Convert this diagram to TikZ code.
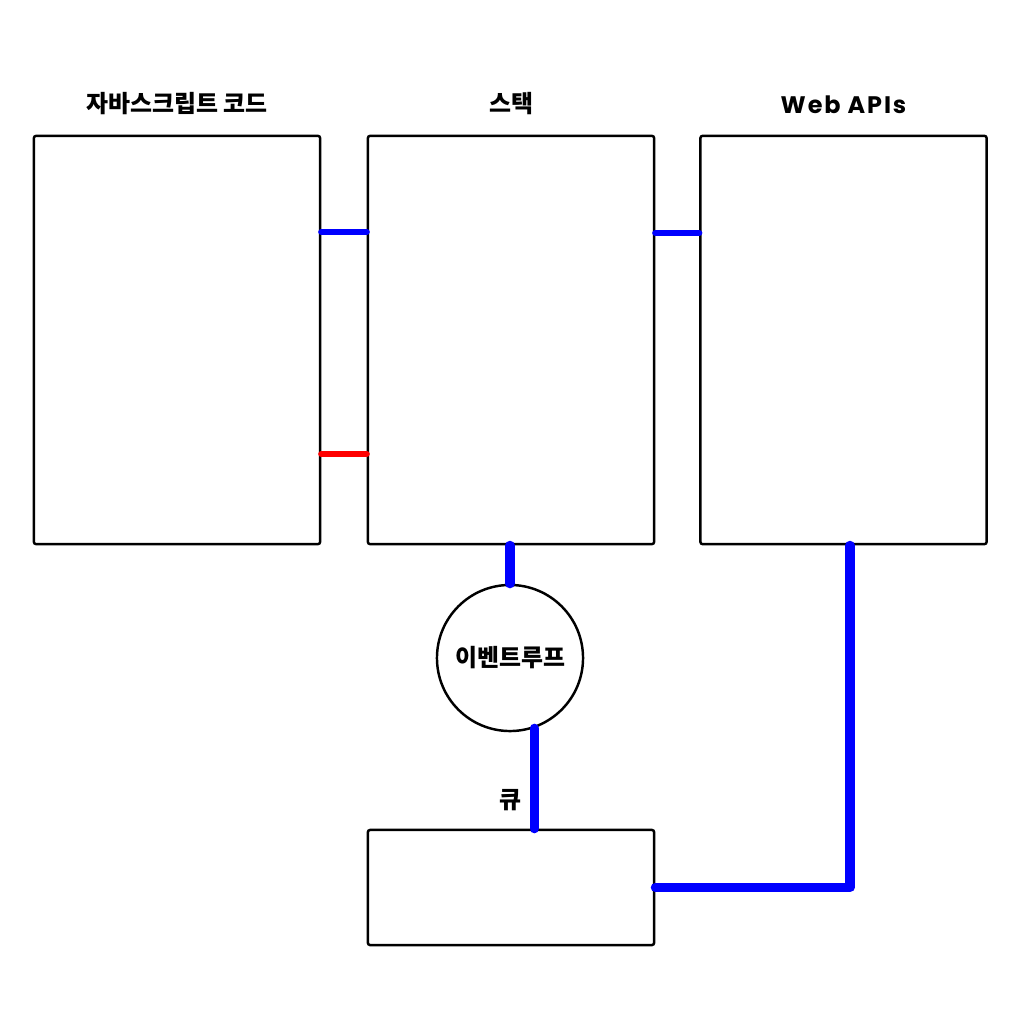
\documentclass[tikz,border=0pt]{standalone}
\usepackage{fontspec}
\setmainfont{Noto Sans CJK KR}
\newfontfamily\latfont[LetterSpace=8]{Poppins}
\usetikzlibrary{positioning}
\tikzset{
  panel/.style={rectangle,draw=black,line width=0.7pt,rounded corners=0.6pt,
                minimum width=2.86cm,minimum height=#1,inner sep=0pt},
  panel/.default=4.08cm,
  loopnode/.style={circle,draw=black,line width=0.7pt,minimum size=1.46cm,
                   inner sep=0pt,font=\fontsize{6.8pt}{8pt}\selectfont\bfseries},
  title/.style={inner sep=0pt,font=\fontsize{6.8pt}{8pt}\selectfont\bfseries},
  link/.style={line width=1.8pt,line cap=round,#1},
  link/.default=blue,
  wire/.style={line width=2.6pt,line cap=round,blue,line join=round},
}
\begin{document}
\begin{tikzpicture}[x=0.01cm,y=-0.01cm]
  \useasboundingbox (0,0) rectangle (1024,1024);
  % three panels
  \node[panel] (code) at (177,340) {};
  \node[panel] (stack) at (511,340) {};
  \node[panel] (webapi) at (843.5,340) {};
  \node[panel=1.15cm] (queue) at (511,887.5) {};
  \node[loopnode] (evloop) at (510,658) {이벤트루프};

  % titles
  \node[title,above=0.19cm of code.north] {자바스크립트 코드};
  \node[title,above=0.19cm of stack.north] {스택};
  \node[title,above=0.20cm of webapi.north] {\latfont Web APIs};
  \node[title] (qlabel) at (510,800) {큐};

  % links between panels
  \draw[link] (code.east |- 0,232) -- (stack.west |- 0,232);
  \draw[link=red] (code.east |- 0,454) -- (stack.west |- 0,454);
  \draw[link] (stack.east |- 0,233) -- (webapi.west |- 0,233);

  % event loop wiring
  \draw[wire] (stack.south -| evloop.north) -- (evloop.north);
  \draw[wire] (evloop.-71) -- (evloop.-71 |- queue.north);
  \draw[wire] (webapi.south -| 850,0) |- (queue.east);
\end{tikzpicture}
\end{document}
